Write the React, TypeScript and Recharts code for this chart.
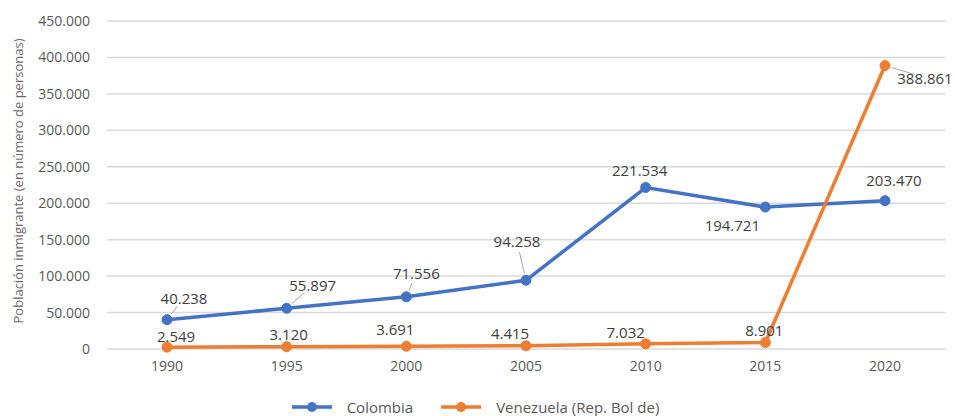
import { LineChart, Line, XAxis, YAxis, CartesianGrid, Legend } from 'recharts'

const years = ['1990', '1995', '2000', '2005', '2010', '2015', '2020']
const colombia = [40238, 55897, 71556, 94258, 221534, 194721, 203470]
const venezuela = [2549, 3120, 3691, 4415, 7032, 8901, 388861]
const yTicks = [0, 50000, 100000, 150000, 200000, 250000, 300000, 350000, 400000, 450000]

// label placement relative to each point: [dx, dy, leader line]
const colombiaLabelPos: [number, number, boolean][] = [
  [17, -22, true],
  [26, -23, true],
  [10, -24, true],
  [-9, -39, true],
  [-6, -18, false],
  [-33, 18, false],
  [9, -21, false],
]
const venezuelaLabelPos: [number, number, boolean][] = [
  [9, -11, false],
  [2, -13, false],
  [-11, -17, false],
  [-16, -13, false],
  [-20, -12, false],
  [-1, -13, false],
  [40, 12, true],
]

const BLUE = '#4472C4'
const ORANGE = '#ED7D31'
const FONT = '"Open Sans", sans-serif'

const data = years.map((year, i) => ({
  year,
  colombia: colombia[i],
  venezuela: venezuela[i],
}))

const fmt = (v: number) => String(v).replace(/\B(?=(\d{3})+(?!\d))/g, '.')

function makeLabel(pos: [number, number, boolean][]) {
  return (props: any) => {
    const { x, y, value, index } = props
    const [dx, dy, leader] = pos[index]
    const lx = x + dx
    const ly = y + dy
    let line = null
    if (leader) {
      // short grey leader from near the point toward the label
      const len = Math.hypot(dx, dy)
      const ux = dx / len
      const uy = dy / len
      const x1 = x + ux * 7
      const y1 = y + uy * 7
      const x2 = x + ux * Math.max(len - 11, 9)
      const y2 = y + uy * Math.max(len - 11, 9)
      line = <line x1={x1} y1={y1} x2={x2} y2={y2} stroke="#a6a6a6" strokeWidth={1} />
    }
    return (
      <g>
        {line}
        <text
          x={lx}
          y={ly}
          textAnchor="middle"
          dominantBaseline="central"
          fill="#404040"
          fontSize={15}
          fontFamily={FONT}
        >
          {fmt(value)}
        </text>
      </g>
    )
  }
}

function LegendContent() {
  const items = [
    { name: 'Colombia', color: BLUE },
    { name: 'Venezuela (Rep. Bol de)', color: ORANGE },
  ]
  return (
    <div
      style={{
        display: 'flex',
        justifyContent: 'center',
        gap: 28,
        paddingTop: 14,
        height: 18,
        fontFamily: FONT,
        fontSize: 15,
        color: '#595959',
        paddingLeft: 6,
      }}
    >
      {items.map((it) => (
        <div key={it.name} style={{ display: 'flex', alignItems: 'center' }}>
          <svg width={40} height={14} style={{ marginRight: 15 }}>
            <line x1={0} y1={7} x2={40} y2={7} stroke={it.color} strokeWidth={3.5} />
            <circle cx={20} cy={7} r={5} fill={it.color} />
          </svg>
          <span style={{ lineHeight: '18px' }}>{it.name}</span>
        </div>
      ))}
    </div>
  )
}

export default function App() {
  return (
    <div style={{ width: 955, height: 416, background: '#fff' }}>
      <style>{'body{margin:0}'}</style>
      <LineChart
        width={955}
        height={416}
        data={data}
        margin={{ top: 21, right: 10, left: 0, bottom: 0 }}
      >
        <CartesianGrid vertical={false} stroke="#d9d9d9" strokeWidth={1.5} />
        <XAxis
          dataKey="year"
          axisLine={false}
          tickLine={false}
          tickSize={0}
          tickMargin={12}
          height={35}
          padding={{ left: 60, right: 60 }}
          tick={{ fill: '#595959', fontSize: 14, fontFamily: FONT }}
        />
        <YAxis
          width={107}
          domain={[0, 450000]}
          ticks={yTicks}
          interval={0}
          axisLine={false}
          tickLine={false}
          tickSize={0}
          tickMargin={17}
          tickFormatter={fmt}
          tick={{ fill: '#595959', fontSize: 14, fontFamily: FONT }}
          label={{
            value: 'Población inmigrante (en número de personas)',
            angle: -90,
            position: 'insideLeft',
            offset: 18,
            dy: -4,
            style: { textAnchor: 'middle', fill: '#6b6b6b', fontSize: 13, fontFamily: FONT },
          }}
        />
        <Legend verticalAlign="bottom" height={32} content={<LegendContent />} />
        <Line
          dataKey="colombia"
          name="Colombia"
          stroke={BLUE}
          strokeWidth={3.5}
          dot={{ r: 5, fill: BLUE, stroke: BLUE, strokeWidth: 1 }}
          isAnimationActive={false}
          label={makeLabel(colombiaLabelPos)}
        />
        <Line
          dataKey="venezuela"
          name="Venezuela (Rep. Bol de)"
          stroke={ORANGE}
          strokeWidth={3.5}
          dot={{ r: 5, fill: ORANGE, stroke: ORANGE, strokeWidth: 1 }}
          isAnimationActive={false}
          label={makeLabel(venezuelaLabelPos)}
        />
      </LineChart>
    </div>
  )
}
